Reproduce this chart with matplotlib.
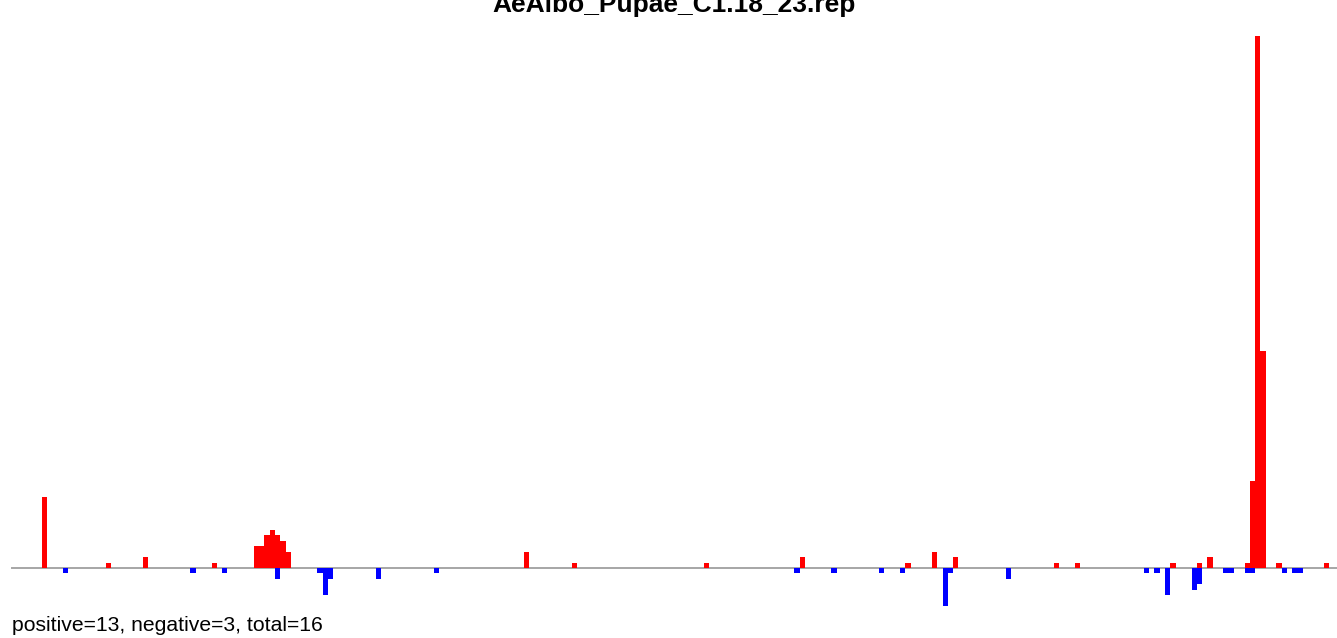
import matplotlib
matplotlib.use("Agg")
import matplotlib.pyplot as plt

title = "AeAlbo_Pupae_C1.18_23.rep"
summary = "positive=13, negative=3, total=16"

# bin index -> count (reads above the line)
pos_bins = [0, 12, 19, 32, 40, 41, 42, 43, 44, 45, 46, 91, 100, 125, 143,
            163, 168, 172, 191, 195, 213, 218, 220, 227, 228, 229, 230, 233, 242]
pos_vals = [13, 1, 2, 1, 4, 4, 6, 7, 6, 5, 3, 3, 1, 1, 2,
            1, 3, 2, 1, 1, 1, 1, 2, 1, 16, 98, 40, 1, 1]

# bin index -> count (reads below the line)
neg_bins = [4, 28, 34, 44, 52, 53, 54, 63, 74, 142, 149, 158, 162, 170,
            171, 182, 208, 210, 212, 217, 218, 223, 224, 227, 228, 234, 236, 237]
neg_vals = [1, 1, 1, 2, 1, 5, 2, 2, 1, 1, 1, 1, 1, 7,
            1, 2, 1, 1, 5, 4, 3, 1, 1, 1, 1, 1, 1, 1]

fig = plt.figure(figsize=(13.37, 6.38), dpi=100)
ax = fig.add_axes([0, 0, 1, 1])
ax.axis("off")

# baseline first so bars sit on top of it
ax.axhline(0, xmin=12 / 1337, xmax=1, color="#a6a6a6", lw=1.4, zorder=1)

ax.bar(pos_bins, pos_vals, width=1, align="edge", color="#ff0000",
       linewidth=0, antialiased=False, zorder=2)
ax.bar(neg_bins, [-v for v in neg_vals], width=1, align="edge", color="#0000ff",
       linewidth=0, antialiased=False, zorder=2)

# pixel layout: bin 0 starts at x=42, bin 242 at x=1324; baseline at y=568
bw = (1324 - 42) / 242
unit = 5.43
ax.set_xlim(-42 / bw, (1337 - 42) / bw)
ax.set_ylim(-(638 - 568) / unit, 568 / unit)

fig.text(674.5 / 1337, 1 - 12 / 638, title, ha="center", va="baseline",
         fontsize=19, fontweight="bold", family="Liberation Sans")
fig.text(12.5 / 1337, 1 - 631 / 638, summary, ha="left", va="baseline",
         fontsize=15.2, family="Liberation Sans")

fig.savefig("out.png", dpi=100)
